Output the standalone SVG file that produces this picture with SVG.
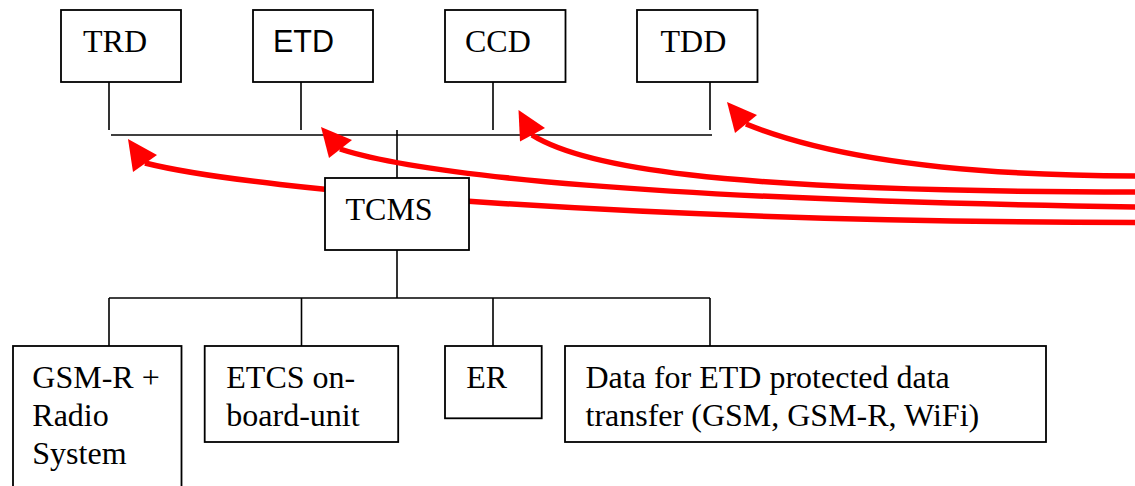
<svg xmlns="http://www.w3.org/2000/svg" width="1135" height="486" viewBox="0 0 1135 486">
  <style>
    .box { fill: #ffffff; stroke: #000000; stroke-width: 1.8; }
    .wire { fill: none; stroke: #000000; stroke-width: 1.6; }
    .lbl { font-family: "Liberation Serif", "Times New Roman", serif; font-size: 32px; fill: #000000; }
    .lbl-sans { font-family: "Liberation Sans", Arial, sans-serif; font-size: 30.5px; fill: #000000; }
    .flow { fill: none; stroke: #ff0000; stroke-width: 5.5; }
    .head { fill: #ff0000; stroke: none; }
  </style>
  <rect width="1135" height="486" fill="#ffffff"/>

  <!-- bus wiring -->
  <g id="connectors">
    <path class="wire" d="M109,82 V130 M301,82 V130 M493,82 V130 M710,82 V130"/>
    <path class="wire" d="M111,135 H712"/>
    <path class="wire" d="M397,130 V178"/>
    <path class="wire" d="M397,250 V298"/>
    <path class="wire" d="M109,298 H710"/>
    <path class="wire" d="M109,298 V346 M301.5,298 V346 M493,298 V346 M710,298 V346"/>
  </g>

  <!-- red data paths -->
  <g id="flows">
    <path class="flow" d="M1140,176 C960,176 830,158 746,124"/>
    <polygon class="head" points="727,102 757,115 735,133"/>
    <path class="flow" d="M1140,192 C700,192 580,165 532,135"/>
    <polygon class="head" points="518.5,110 545,128 520,141.5"/>
    <path class="flow" d="M1140,207 C650,200 420,175 340,149"/>
    <polygon class="head" points="321,127 352,140 329,158"/>
    <path class="flow" d="M1140,222.5 C650,222 260,192 145,163"/>
    <polygon class="head" points="128,139 157,155 133,172"/>
  </g>

  <g id="trd">
    <rect class="box" x="61" y="10" width="120" height="72"/>
    <text class="lbl" x="83" y="52">TRD</text>
  </g>
  <g id="etd">
    <rect class="box" x="253" y="10" width="120" height="72"/>
    <text class="lbl-sans" x="273" y="52">ETD</text>
  </g>
  <g id="ccd">
    <rect class="box" x="445" y="10" width="120.5" height="72"/>
    <text class="lbl" x="465" y="52">CCD</text>
  </g>
  <g id="tdd">
    <rect class="box" x="637" y="10" width="120.5" height="72"/>
    <text class="lbl" x="660.5" y="52">TDD</text>
  </g>

  <g id="tcms">
    <rect class="box" x="325" y="178" width="144" height="72"/>
    <text class="lbl" x="345.5" y="220">TCMS</text>
  </g>

  <g id="gsmr">
    <rect class="box" x="13" y="346" width="168.5" height="150"/>
    <text class="lbl" x="32.3" y="387.7">GSM-R +</text>
    <text class="lbl" x="32.3" y="426">Radio</text>
    <text class="lbl" x="32.3" y="464.3">System</text>
  </g>
  <g id="etcs">
    <rect class="box" x="204.7" y="346" width="193.5" height="96"/>
    <text class="lbl" x="226.3" y="387.7">ETCS on-</text>
    <text class="lbl" x="226.3" y="426">board-unit</text>
  </g>
  <g id="er">
    <rect class="box" x="445" y="346" width="96.7" height="72.3"/>
    <text class="lbl" x="466.3" y="387.7">ER</text>
  </g>
  <g id="data">
    <rect class="box" x="565" y="346" width="481" height="96"/>
    <text class="lbl" x="585.5" y="387.7">Data for ETD protected data</text>
    <text class="lbl" x="585.5" y="426">transfer (GSM, GSM-R, WiFi)</text>
  </g>
</svg>
